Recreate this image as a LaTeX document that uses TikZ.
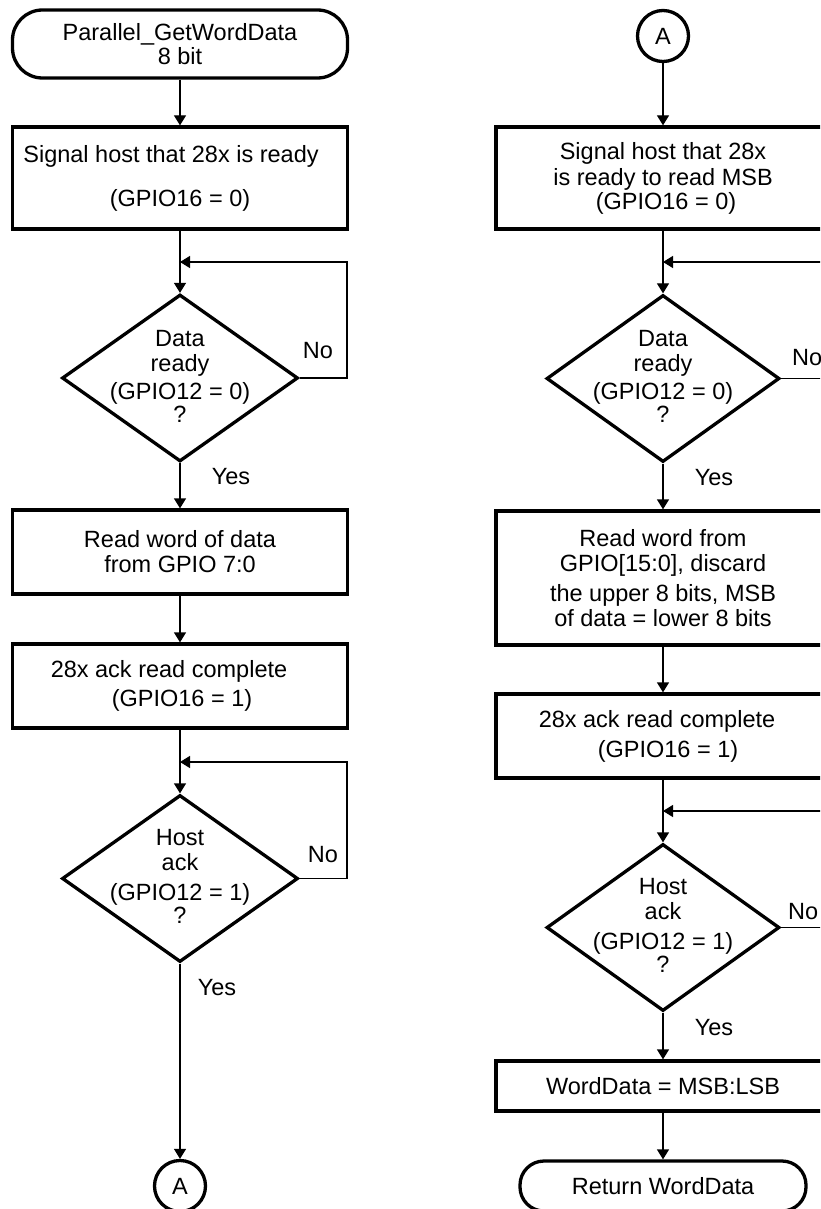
\documentclass[tikz,border=0pt]{standalone}
\usepackage{fontspec}
\setmainfont{Liberation Sans}
\usetikzlibrary{shapes.geometric,arrows.meta}
\newcommand\myfs{\fontsize{23.5}{25}\selectfont}
\begin{document}
\begin{tikzpicture}[x=1pt,y=-1pt,
  every node/.style={font=\myfs},
  box/.style={draw, line width=3.3pt, rectangle, inner sep=0pt, align=center},
  lbox/.style={box, minimum width=335pt},
  rbox/.style={box, minimum width=334pt},
  term/.style={draw, line width=3.3pt, rectangle, inner sep=0pt, align=center},
  dia/.style={draw, line width=3.3pt, diamond, inner sep=0pt, minimum height=167pt},
  txt/.style={align=center, inner sep=0pt},
  conn/.style={line width=1.3pt, -{Triangle[length=10pt,width=12pt]}},
  conncircle/.style={draw, line width=3.3pt, circle, minimum size=51pt, inner sep=0pt},
  lbl/.style={inner sep=0pt}
]
\useasboundingbox (0,0) rectangle (820,1209);
\clip (0,0) rectangle (820,1209);

% ---------------- left column ----------------
\node[term, minimum width=335pt, minimum height=68pt, rounded corners=30pt] (t1) at (180,44) {Parallel\_GetWordData\\[-1pt]8 bit};
\node[lbox, minimum height=102pt] (lb1) at (180,178) {Signal host that 28x is ready\hspace*{18pt}\\[19pt](GPIO16 = 0)};
\coordinate (lj1) at (180,262);
\node[dia, minimum width=236pt] (ld1) at (180,378) {};
\node[txt] at (180,376) {Data\\ready\\[3pt](GPIO12 = 0)\\[-2pt]?};
\node[lbox, minimum height=84pt] (lb2) at (180,552) {Read word of data\\from GPIO 7:0};
\node[lbox, minimum height=84pt] (lb3) at (180,686) {28x ack read complete\hspace*{22pt}\\[4pt]\hspace*{4pt}(GPIO16 = 1)};
\coordinate (lj2) at (180,762);
\node[dia, minimum width=236pt] (ld2) at (180,878.5) {};
\node[txt] at (180,876) {Host\\ack\\[5pt](GPIO12 = 1)\\[-2pt]?};
\node[conncircle] (la) at (180,1186) {A};

\draw[conn] (t1) -- (lb1);
\draw[conn] (lb1) -- (ld1);
\draw[conn] (ld1.east) -- (347,378) |- (lj1);
\draw[conn] (ld1) -- (lb2);
\draw[conn] (lb2) -- (lb3);
\draw[conn] (lb3) -- (ld2);
\draw[conn] (ld2.east) -- (347,878.5) |- (lj2);
\draw[conn] (ld2) -- (la);

\node[lbl] at (318,351) {No};
\node[lbl] at (231,477) {Yes};
\node[lbl] at (323,855) {No};
\node[lbl] at (217,988) {Yes};

% ---------------- right column ----------------
\node[conncircle] (ra) at (663,36) {A};
\node[rbox, minimum height=102pt] (rb1) at (663,178) {Signal host that 28x\\[1pt]is ready to read MSB\\[-1pt]\hspace*{6pt}(GPIO16 = 0)};
\coordinate (rj1) at (663,262);
\node[dia, minimum width=233pt] (rd1) at (663,378.5) {};
\node[txt] at (663,376) {Data\\ready\\[3pt](GPIO12 = 0)\\[-2pt]?};
\node[rbox, minimum height=134pt] (rb2) at (663,578) {Read word from\\GPIO[15:0], discard\\[5pt]the upper 8 bits, MSB\\of data = lower 8 bits};
\node[rbox, minimum height=84pt] (rb3) at (663,736) {28x ack read complete\hspace*{12pt}\\[5pt]\hspace*{10pt}(GPIO16 = 1)};
\coordinate (rj2) at (663,811);
\node[dia, minimum width=233pt] (rd2) at (663,927.5) {};
\node[txt] at (663,925) {Host\\ack\\[5pt](GPIO12 = 1)\\[-2pt]?};
\node[rbox, minimum height=50pt] (rb4) at (663,1086) {WordData = MSB:LSB};
\node[term, minimum width=286pt, minimum height=50pt, rounded corners=24pt] (rt) at (663,1186) {Return WordData};

\draw[conn] (ra) -- (rb1);
\draw[conn] (rb1) -- (rd1);
\draw[conn] (rd1.east) -- (850,378.5) |- (rj1);
\draw[conn] (rd1) -- (rb2);
\draw[conn] (rb2) -- (rb3);
\draw[conn] (rb3) -- (rd2);
\draw[conn] (rd2.east) -- (850,927.5) |- (rj2);
\draw[conn] (rd2) -- (rb4);
\draw[conn] (rb4) -- (rt);

\node[lbl, anchor=west] at (792,358) {No};
\node[lbl] at (714,478) {Yes};
\node[lbl, anchor=west] at (788,912) {No};
\node[lbl] at (714,1028) {Yes};
\end{tikzpicture}
\end{document}
